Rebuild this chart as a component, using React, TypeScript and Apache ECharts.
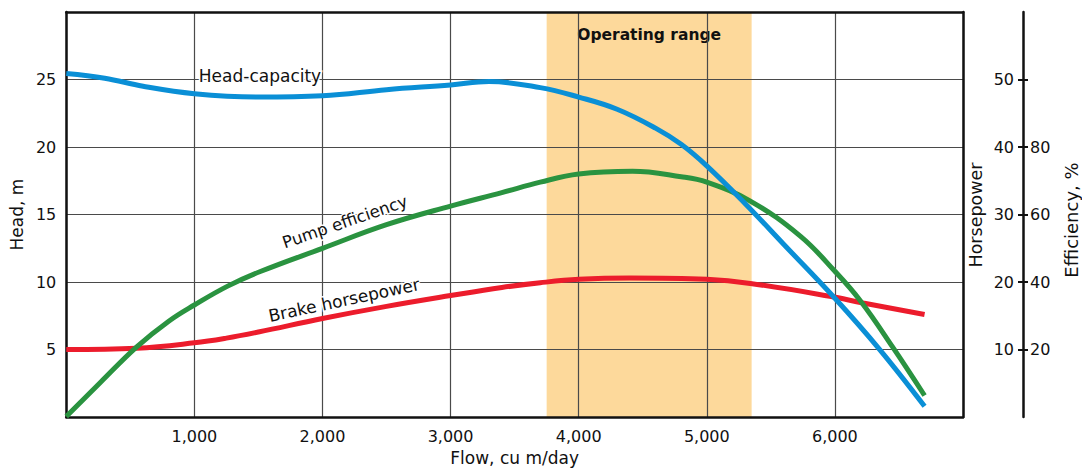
import React, { useEffect, useRef } from "react";
import * as echarts from "echarts";

// Tick labels
const flowTicks = [1000, 2000, 3000, 4000, 5000, 6000];
const headTicks = [5, 10, 15, 20, 25];
const hpTicks = [10, 20, 30, 40, 50];
const effTicks = [20, 40, 60, 80];
const effTickMarks = [20, 40, 60, 80, 100];

// Head-capacity curve (m)
const headFlow = [0, 300, 600, 1000, 1500, 2000, 2500, 3000, 3300, 3700, 4000, 4300, 4600, 4800, 5000, 5300, 5600, 6000, 6350, 6700];
const headValues = [25.45, 25.1, 24.5, 23.95, 23.7, 23.8, 24.25, 24.6, 24.85, 24.4, 23.7, 22.8, 21.4, 20.2, 18.6, 15.8, 12.8, 8.8, 5.0, 0.8];

// Pump efficiency curve (%)
const effFlow = [0, 270, 550, 800, 1000, 1260, 1520, 2000, 2500, 3000, 3400, 3700, 4000, 4420, 4800, 5000, 5340, 5730, 6000, 6200, 6450, 6700];
const effValues = [0.2, 10.4, 20.8, 28.4, 33.2, 38.8, 43.2, 50, 57, 62.5, 66.5, 69.6, 72, 72.8, 71.2, 69.6, 64, 53.6, 43.2, 34.4, 20.8, 6.4];

// Brake horsepower curve (hp)
const hpFlow = [0, 550, 1000, 1250, 1500, 2000, 2500, 3000, 3400, 3700, 4000, 4400, 5000, 5340, 5960, 6220, 6700];
const hpValues = [10, 10.2, 11, 11.7, 12.6, 14.6, 16.4, 18, 19.2, 19.9, 20.4, 20.6, 20.4, 19.8, 17.9, 16.9, 15.2];

// Operating range (cu m/day)
const operatingRange = [3750, 5350];

const FONT = "DejaVu Sans";
const BLACK = "#111";

export default function App() {
  const ref = useRef<HTMLDivElement>(null);

  useEffect(() => {
    if (!ref.current) return;
    const chart = echarts.init(ref.current, undefined, { renderer: "svg" });

    const frameLine = { color: BLACK, width: 2.5 };
    const gridLine = { color: "#4a4a4a", width: 1.2 };
    const tickFont = { fontFamily: FONT, fontSize: 16, color: BLACK };
    const pairs = (xs: number[], ys: number[]) => xs.map((x, i) => [x, ys[i]]);
    const labelStyle = (text: string, size: number) => ({
      text,
      align: "center",
      verticalAlign: "middle",
      font: `${size}px "${FONT}"`,
      fill: BLACK,
      stroke: "#fff",
      lineWidth: 3,
    });

    const option: any = {
      animation: false,
      backgroundColor: "#fff",
      textStyle: { fontFamily: FONT },
      grid: { left: 65, right: 119, top: 12, bottom: 50 },
      xAxis: [
        {
          type: "value",
          min: 0,
          max: 7000,
          interval: 1000,
          position: "bottom",
          axisLine: { show: true, onZero: false, lineStyle: frameLine },
          axisTick: { show: false },
          axisLabel: {
            customValues: flowTicks,
            formatter: (v: number) => v.toLocaleString("en-US"),
            margin: 11,
            ...tickFont,
          },
          splitLine: { show: true, lineStyle: gridLine },
          name: "Flow, cu m/day",
          nameLocation: "middle",
          nameGap: 31,
          nameTextStyle: { fontFamily: FONT, fontSize: 17, color: BLACK },
        },
        {
          type: "value",
          min: 0,
          max: 7000,
          position: "top",
          axisLine: { show: true, onZero: false, lineStyle: frameLine },
          axisTick: { show: false },
          axisLabel: { show: false },
          splitLine: { show: false },
        },
      ],
      yAxis: [
        {
          type: "value",
          min: 0,
          max: 30,
          interval: 5,
          position: "left",
          axisLine: { show: true, onZero: false, lineStyle: frameLine },
          axisTick: { show: false },
          axisLabel: { customValues: headTicks, margin: 10, ...tickFont },
          splitLine: { show: true, lineStyle: gridLine },
          name: "Head, m",
          nameLocation: "middle",
          nameGap: 38,
          nameTextStyle: { fontFamily: FONT, fontSize: 17, color: BLACK },
        },
        {
          type: "value",
          min: 0,
          max: 60,
          interval: 10,
          position: "right",
          offset: 60,
          axisLine: { show: true, onZero: false, lineStyle: frameLine },
          axisTick: { show: true, inside: true, length: 5, customValues: hpTicks, lineStyle: { color: BLACK, width: 2 } },
          axisLabel: { inside: true, margin: 9, customValues: hpTicks, ...tickFont },
          splitLine: { show: false },
        },
        {
          type: "value",
          min: 0,
          max: 120,
          interval: 20,
          position: "right",
          offset: 60,
          axisLine: { show: false, onZero: false },
          axisTick: { show: true, length: 5, customValues: effTickMarks, lineStyle: { color: BLACK, width: 2 } },
          axisLabel: { margin: 7, customValues: effTicks, ...tickFont },
          splitLine: { show: false },
        },
        {
          type: "value",
          min: 0,
          max: 30,
          position: "right",
          offset: 0,
          axisLine: { show: true, onZero: false, lineStyle: frameLine },
          axisTick: { show: false },
          axisLabel: { show: false },
          splitLine: { show: false },
        },
      ],
      series: [
        {
          name: "Brake horsepower",
          type: "line",
          yAxisIndex: 1,
          data: pairs(hpFlow, hpValues),
          smooth: 0.4,
          symbol: "none",
          lineStyle: { color: "#EC1C2C", width: 5 },
          z: 3,
        },
        {
          name: "Pump efficiency",
          type: "line",
          yAxisIndex: 2,
          data: pairs(effFlow, effValues),
          smooth: 0.4,
          symbol: "none",
          lineStyle: { color: "#2A9340", width: 5 },
          z: 4,
        },
        {
          name: "Head-capacity",
          type: "line",
          yAxisIndex: 0,
          data: pairs(headFlow, headValues),
          smooth: 0.4,
          symbol: "none",
          lineStyle: { color: "#0A8FD6", width: 5 },
          z: 5,
          markArea: {
            silent: true,
            z: -1,
            itemStyle: { color: "#FDD99B" },
            label: {
              show: true,
              position: "insideTop",
              distance: 15,
              fontFamily: FONT,
              fontWeight: "bold",
              fontSize: 15.5,
              color: BLACK,
            },
            data: [[{ name: "Operating range", xAxis: operatingRange[0] }, { xAxis: operatingRange[1] }]],
          },
        },
      ],
      graphic: [
        { type: "text", x: 260, y: 76, z: 10, style: labelStyle("Head-capacity", 17) },
        { type: "text", x: 345, y: 222, z: 10, rotation: (19 * Math.PI) / 180, style: labelStyle("Pump efficiency", 16.5) },
        { type: "text", x: 344, y: 300, z: 10, rotation: (12 * Math.PI) / 180, style: labelStyle("Brake horsepower", 17) },
        { type: "text", x: 976, y: 215, z: 10, rotation: Math.PI / 2, style: { ...labelStyle("Horsepower", 17.5), stroke: undefined, lineWidth: 0 } },
        { type: "text", x: 1071, y: 220, z: 10, rotation: Math.PI / 2, style: { ...labelStyle("Efficiency, %", 18), stroke: undefined, lineWidth: 0 } },
      ],
    };

    chart.setOption(option);
    return () => chart.dispose();
  }, []);

  return (
    <div
      ref={ref}
      style={{ position: "absolute", left: 0, top: 0, width: 1082, height: 471, background: "#fff" }}
    />
  );
}
